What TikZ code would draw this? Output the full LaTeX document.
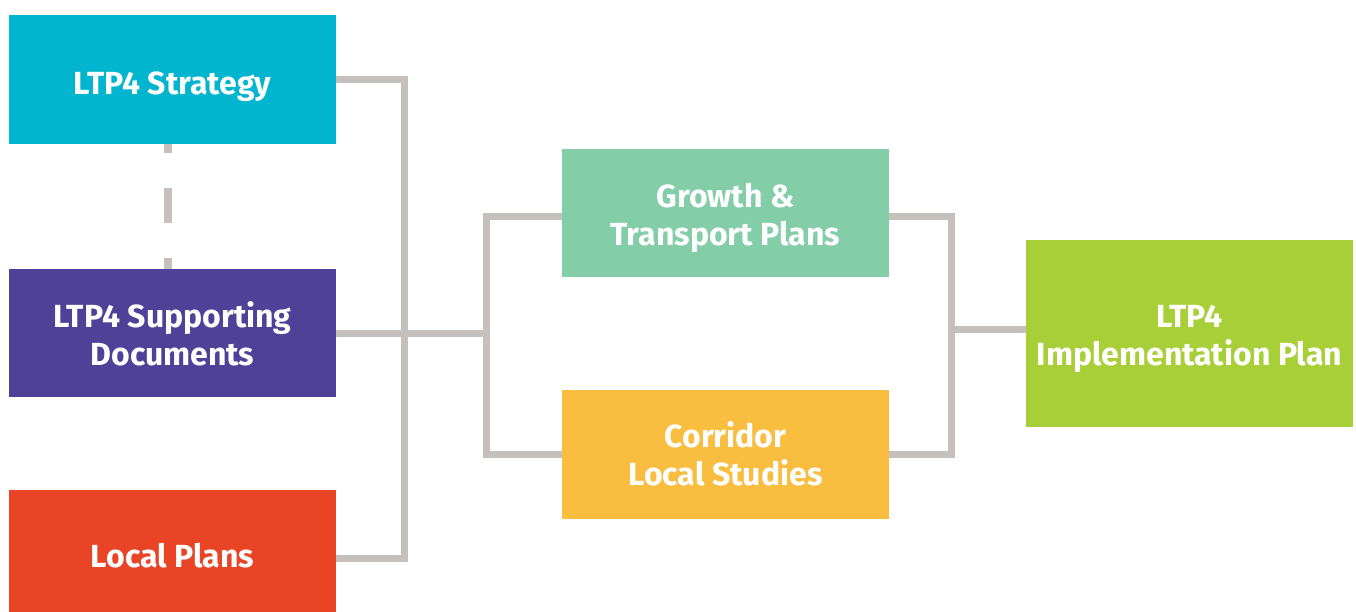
\documentclass[tikz,border=0pt]{standalone}
\usepackage{fontspec}
\setmainfont{Fira Sans}
\usetikzlibrary{calc}
\definecolor{cStrat}{HTML}{00B5CD}
\definecolor{cSupp}{HTML}{4F4198}
\definecolor{cLocal}{HTML}{EA4426}
\definecolor{cGrowth}{HTML}{83CDA8}
\definecolor{cCorr}{HTML}{F9BD40}
\definecolor{cImpl}{HTML}{A9CF38}
\definecolor{cLine}{HTML}{C5C0BC}
\tikzset{
  box/.style={rectangle, draw=none, minimum width=327pt, inner sep=0pt},
  lbl/.style={anchor=base, inner sep=0pt, text=white, font=\fontsize{32}{38}\selectfont\bfseries},
  conn/.style={draw=cLine, line width=7pt, line join=miter},
  dashconn/.style={draw=cLine, line width=7.5pt, dash pattern=on 35pt off 35pt, dash phase=26pt}
}
\begin{document}
\begin{tikzpicture}[x=1pt,y=-1pt]
\useasboundingbox (0,0) rectangle (1356,612);
\clip (0,0) rectangle (1356,612);
% boxes
\node[box, fill=cStrat, minimum height=129pt] (strat) at (172.5,79.5) {};
\node[box, fill=cSupp, minimum height=128pt] (supp) at (172.5,333) {};
\node[box, fill=cLocal, minimum height=136pt] (local) at (172.5,558) {};
\node[box, fill=cGrowth, minimum height=128pt] (growth) at (725.5,213) {};
\node[box, fill=cCorr, minimum height=129pt] (corr) at (725.5,454.5) {};
\node[box, fill=cImpl, minimum height=187pt] (impl) at (1189.5,333.5) {};
% labels
\node[lbl] (strat-a) at ($(strat.center)+(0,15.5)$) {LTP4 Strategy};
\node[lbl] (supp-a) at ($(supp.center)+(0,-6)$) {LTP4 Supporting};
\node[lbl] (supp-b) at ($(supp.center)+(0,32)$) {Documents};
\node[lbl] (local-a) at ($(local.center)+(0,9)$) {Local Plans};
\node[lbl] (growth-a) at ($(growth.center)+(0,-5)$) {Growth \&};
\node[lbl] (growth-b) at ($(growth.center)+(0,32.5)$) {Transport Plans};
\node[lbl] (corr-a) at ($(corr.center)+(0,-7.5)$) {Corridor};
\node[lbl] (corr-b) at ($(corr.center)+(0,30.5)$) {Local Studies};
\node[lbl] (impl-a) at ($(impl.center)+(0,-6.5)$) {LTP4};
\node[lbl] (impl-b) at ($(impl.center)+(0,31.5)$) {Implementation Plan};
% connectors
\coordinate (busA) at (404,333);
\coordinate (busB) at (486,333);
\coordinate (busC) at (951,329);
\draw[dashconn] ([xshift=-4.5pt]strat.south) -- ([xshift=-4.5pt]supp.north);
\draw[conn] (strat.east) -| (busA) |- (local.east);
\draw[conn] (supp.east) -- (busB);
\draw[conn] ([yshift=-4pt]growth.west) -| (busB) |- (corr.west);
\draw[conn] ([yshift=-4pt]growth.east) -| (busC) |- (corr.east);
\draw[conn] (busC) -- (busC -| impl.west);
\end{tikzpicture}
\end{document}
